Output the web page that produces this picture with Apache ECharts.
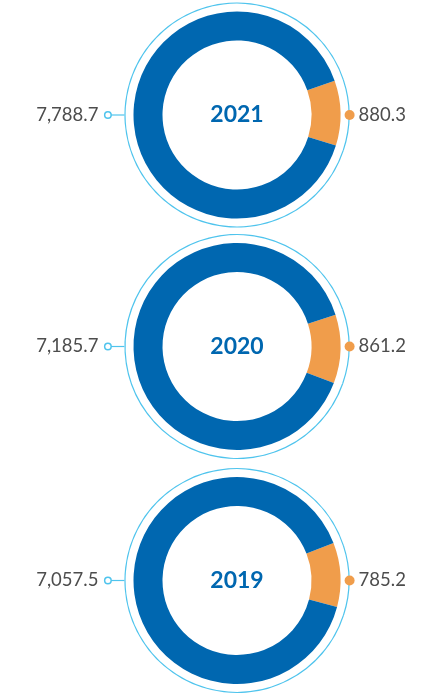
<!DOCTYPE html>
<html>
<head>
<meta charset="utf-8">
<script src="https://cdn.jsdelivr.net/npm/echarts@6/dist/echarts.min.js"></script>
<style>
  html, body { margin: 0; padding: 0; background: #ffffff; }
  #chart { width: 442px; height: 699px; }
</style>
</head>
<body>
<div id="chart"></div>
<script>
// ---- data ----
var years = ['2021', '2020', '2019'];
var blueValues = [7788.7, 7185.7, 7057.5];
var orangeValues = [880.3, 861.2, 785.2];

// ---- layout / style ----
var centersY = [115, 346.5, 580.5];
var centerX = 237;
var rotation = [1.1, -1.4, 3.2];   // midpoint offset of the orange slice (deg)
var BLUE = '#0067b0';
var ORANGE = '#f09d4b';
var RING = '#4fc4ed';
var TEXT = '#4d4d4d';
var FONT = 'Lato';

function fmt(v) {
  return v.toLocaleString('en-US', { minimumFractionDigits: 1, maximumFractionDigits: 1 });
}

var series = [];
var titles = [];
years.forEach(function (yr, i) {
  var o = orangeValues[i], b = blueValues[i];
  var orangeDeg = o / (o + b) * 360;
  var cy = centersY[i];

  // main donut
  series.push({
    type: 'pie',
    silent: true,
    center: [centerX, cy],
    radius: [74.5, 103.5],
    startAngle: orangeDeg / 2 + rotation[i],
    clockwise: true,
    label: { show: false },
    labelLine: { show: false },
    data: [
      { name: 'orange', value: o, itemStyle: { color: ORANGE } },
      { name: 'blue', value: b, itemStyle: { color: BLUE } }
    ]
  });

  // thin outer ring that carries the value labels
  series.push({
    type: 'pie',
    silent: true,
    center: [centerX, cy],
    radius: [111.4, 112.6],
    startAngle: orangeDeg / 2,
    clockwise: true,
    avoidLabelOverlap: false,
    itemStyle: { color: RING },
    label: {
      show: true,
      position: 'outside',
      fontFamily: FONT,
      fontSize: 18.5,
      color: TEXT
    },
    data: [
      {
        name: 'orange', value: o,
        label: {
          formatter: '{d|}{v|' + fmt(o) + '}',
          distanceToLabelLine: -5,
          rich: {
            d: { width: 10, height: 10, borderRadius: 5, backgroundColor: ORANGE, verticalAlign: 'middle' },
            v: { fontFamily: FONT, fontSize: 18.5, color: TEXT, padding: [0, 0, 0, 4], verticalAlign: 'middle' }
          }
        },
        labelLine: { show: false, length: 0, length2: 0 }
      },
      {
        name: 'blue', value: b,
        label: {
          formatter: '{v|' + fmt(b) + '}{c|}',
          distanceToLabelLine: 0,
          rich: {
            v: { fontFamily: FONT, fontSize: 18.5, color: TEXT, padding: [0, 7, 0, 0], verticalAlign: 'middle' },
            c: { width: 5, height: 5, borderRadius: 4, borderWidth: 1.5, borderColor: RING, backgroundColor: '#fff', verticalAlign: 'middle' }
          }
        },
        labelLine: { show: true, length: 14, length2: 0, lineStyle: { color: RING, width: 1.2 } }
      }
    ]
  });

  titles.push({
    text: yr,
    left: centerX,
    top: cy,
    textAlign: 'center',
    textVerticalAlign: 'middle',
    padding: 0,
    textStyle: { fontFamily: FONT, fontWeight: 'bold', fontSize: 23, color: BLUE }
  });
});

var chart = echarts.init(document.getElementById('chart'), null, { renderer: 'canvas' });
chart.setOption({
  animation: false,
  backgroundColor: '#ffffff',
  title: titles,
  series: series
});
</script>
</body>
</html>
